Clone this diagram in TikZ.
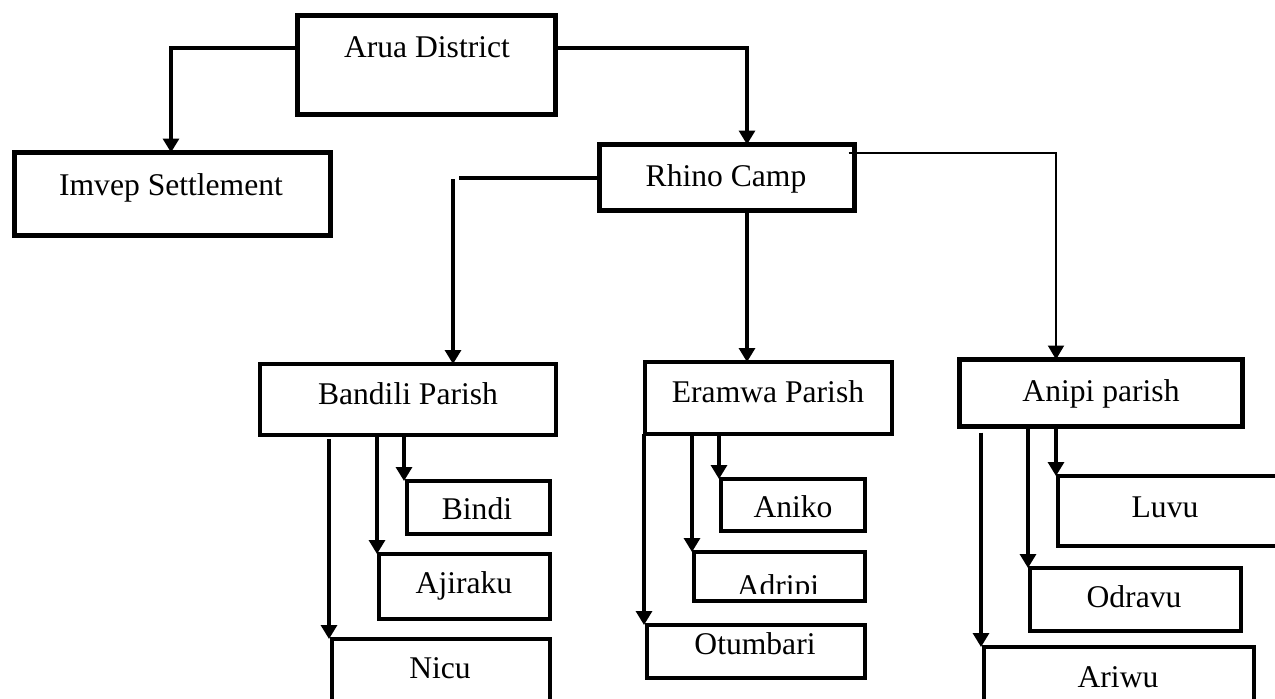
\documentclass[tikz,border=0pt]{standalone}
\usepackage{fontspec}
\setmainfont{Liberation Serif}
\usetikzlibrary{arrows.meta,calc}
\begin{document}
\begin{tikzpicture}[x=0.5pt,y=-0.5pt,
  boxbase/.style={draw=black,rectangle,inner sep=0pt,outer sep=0pt,fill=none},
  bigbox/.style={boxbase,line width=2.5pt},
  midbox/.style={boxbase,line width=2.3pt},
  smallbox/.style={boxbase,line width=2pt},
  lbl/.style={anchor=base,inner sep=0pt,font=\fontsize{15.8}{19}\selectfont},
  conn/.style={line width=1.6pt},
  thinconn/.style={line width=1pt},
  arr/.style={-{Triangle[length=7pt,width=8pt]}}]
\useasboundingbox (0,0) rectangle (1275,698);
\clip (0,0) rectangle (1275,698);

% boxes
\node[bigbox,minimum width=129pt,minimum height=49.5pt] (arua) at (426.5,65) {};
\node[bigbox,minimum width=158pt,minimum height=41.5pt] (imvep) at (172.5,194) {};
\node[bigbox,minimum width=127.5pt,minimum height=33pt] (rhino) at (727,177.5) {};
\node[smallbox,minimum width=148pt,minimum height=35.5pt] (bandili) at (408,399.5) {};
\node[smallbox,minimum width=71.5pt,minimum height=26.5pt] (bindi) at (478.5,507.5) {};
\node[smallbox,minimum width=85.5pt,minimum height=32.5pt] (ajiraku) at (464.5,586.5) {};
\node[smallbox,minimum width=109pt,minimum height=31pt] (nicu) at (441,670) {};
\node[smallbox,minimum width=123.5pt,minimum height=36pt] (eramwa) at (768.5,398) {};
\node[smallbox,minimum width=72pt,minimum height=26pt] (aniko) at (793,505) {};
\node[smallbox,minimum width=85.5pt,minimum height=24.5pt] (adripi) at (779.5,576.5) {};
\node[smallbox,minimum width=109pt,minimum height=26.5pt] (otumbari) at (756,651.5) {};
\node[midbox,minimum width=141.5pt,minimum height=33.5pt] (anipi) at (1101,393) {};
\node[smallbox,minimum width=117.5pt,minimum height=35pt] (luvu) at (1175.5,511) {};
\node[smallbox,minimum width=105.5pt,minimum height=31.5pt] (odravu) at (1135.5,599.5) {};
\node[smallbox,minimum width=135pt,minimum height=30.5pt] (ariwu) at (1119,677.5) {};

% labels
\node[lbl] (aruat) at (427,57) {Arua District};
\node[lbl] (imvept) at (171,195) {Imvep Settlement};
\node[lbl] (rhinot) at (726,186) {Rhino Camp};
\node[lbl] (bandilit) at (408,404) {Bandili Parish};
\node[lbl] (bindit) at (477,519) {Bindi};
\node[lbl] (ajirakut) at (464,593) {Ajiraku};
\node[lbl] (nicut) at (440,678) {Nicu};
\node[lbl] (eramwat) at (768,402) {Eramwa Parish};
\node[lbl] (anikot) at (793,517) {Aniko};
\begin{scope}
  \clip (adripi.north west) rectangle (adripi.east |- 0,593);
  \node[lbl] (adripit) at (778,596) {Adripi};
\end{scope}
\node[lbl] (otumbarit) at (755,654) {Otumbari};
\node[lbl] (anipit) at (1101,401) {Anipi parish};
\node[lbl] (luvut) at (1165,517) {Luvu};
\node[lbl] (odravut) at (1134,607) {Odravu};
\node[lbl] (ariwut) at (1118,687) {Ariwu};

% top connectors
\draw[conn,arr] (arua.west |- 0,48) -| (imvep.north -| 171,0);
\draw[conn,arr] (arua.east |- 0,48) -| (rhino.north -| 747,0);

% rhino connectors
\draw[thinconn,arr] ($(rhino.east |- 0,153)+(-6,0)$) -| (anipi.north -| 1056,0);
\coordinate (lgap) at (459,178);
\coordinate (ltop) at (453,179);
\draw[conn] (rhino.west |- 0,178) -- (lgap);
\draw[conn,arr] (ltop) -- (bandili.north -| 453,0);
\draw[conn,arr] (rhino.south -| 747,0) -- (eramwa.north -| 747,0);

% bandili children
\draw[conn,arr] ([yshift=-2pt]bandili.south -| 329,0) -- (nicu.north -| 329,0);
\draw[conn,arr] (bandili.south -| 377,0) -- (ajiraku.north -| 377,0);
\draw[conn,arr] (bandili.south -| 404,0) -- (bindi.north -| 404,0);

% eramwa children
\draw[conn,arr] (eramwa.south -| 644,0) -- (otumbari.north -| 644,0);
\draw[conn,arr] (eramwa.south -| 692,0) -- (adripi.north -| 692,0);
\draw[conn,arr] (eramwa.south -| 719,0) -- (aniko.north -| 719,0);

% anipi children
\draw[conn,arr] ([yshift=-3pt]anipi.south -| 981,0) -- (ariwu.north -| 981,0);
\draw[conn,arr] (anipi.south -| 1028,0) -- (odravu.north -| 1028,0);
\draw[conn,arr] (anipi.south -| 1056,0) -- (luvu.north -| 1056,0);
\end{tikzpicture}
\end{document}
